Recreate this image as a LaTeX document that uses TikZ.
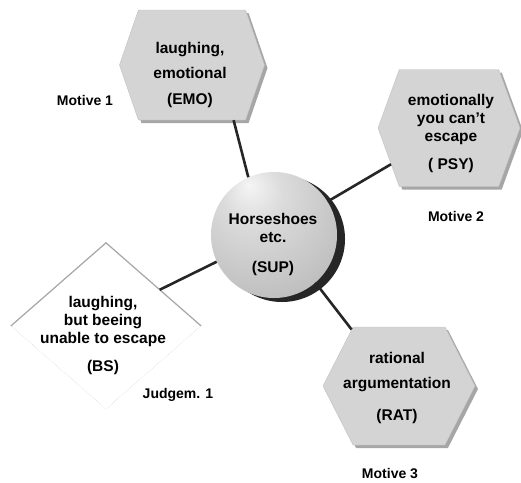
\documentclass[tikz,border=0pt]{standalone}
\usepackage{fontspec}
\setmainfont{Liberation Sans}
\usetikzlibrary{shapes.symbols,shapes.geometric,shadows}
\pgfdeclareradialshading{supball}{\pgfpoint{-10bp}{20bp}}{color(0bp)=(gray!8); color(12bp)=(gray!28); color(38bp)=(gray!52); color(75bp)=(gray!66)}
\begin{document}
\begin{tikzpicture}[x=1pt,y=-1pt,
    hexbox/.style={signal,signal to=west and east,draw=gray!50,fill=gray!34,
      general shadow={fill=gray!70,shadow xshift=3pt,shadow yshift=-3pt}},
    boxtext/.style={align=center,inner sep=0pt,font=\fontsize{15.5}{18}\selectfont\bfseries},
    motive/.style={font=\fontsize{14}{16}\selectfont\bfseries}]
    \useasboundingbox (0,0) rectangle (521,482);
    % the four boxes and the ball
    \node[hexbox,minimum width=145pt,minimum height=110pt,signal pointer angle=142] (emo) at (192,65) {};
    \node[hexbox,minimum width=142pt,minimum height=117pt,signal pointer angle=140] (psy) at (449,128) {};
    \node[hexbox,minimum width=152pt,minimum height=118pt,signal pointer angle=126] (rat) at (399,386) {};
    \node[diamond,minimum width=190pt,minimum height=166pt,draw=gray!45,densely dotted,fill=white] (bs) at (106,326) {};
    \draw[gray!70,line width=1.2pt] (bs.west) -- (bs.north) -- (bs.east);
    \node[circle,minimum size=126pt,shade,shading=supball,
      general shadow={fill=black!85,shadow xshift=8pt,shadow yshift=-4pt}] (sup) at (274,235) {};
    % texts
    \node[boxtext] (emo-t) at (190,75) {laughing,\\[7pt]emotional\\[8pt](EMO)};
    \node[boxtext] (psy-t) at (451,133) {emotionally\\you can’t\\escape\\[10pt]( PSY)};
    \node[boxtext] (rat-t) at (397,388) {rational\\[7pt]argumentation\\[14pt](RAT)};
    \node[boxtext] (sup-t) at (273,244) {Horseshoes\\etc.\\[12pt](SUP)};
    \node[boxtext] (bs-t) at (103,335) {laughing,\\but beeing\\unable to escape\\[10pt](BS)};
    \node[motive] (m1) at (85,100) {Motive 1};
    \node[motive] (m2) at (456,216) {Motive 2};
    \node[motive] (m3) at (390,473) {Motive 3};
    \node[motive] (j1) at (178,395) {Judgem. 1};
    \begin{scope}[every edge/.style={draw,line width=2.6pt,black!85}]
        \path (emo.-53) edge (sup.114);
        \path (psy.212) edge (sup.32);
        \path (rat.130) edge (sup.-49);
        \path (bs.34) edge (sup.205);
    \end{scope}
\end{tikzpicture}
\end{document}
